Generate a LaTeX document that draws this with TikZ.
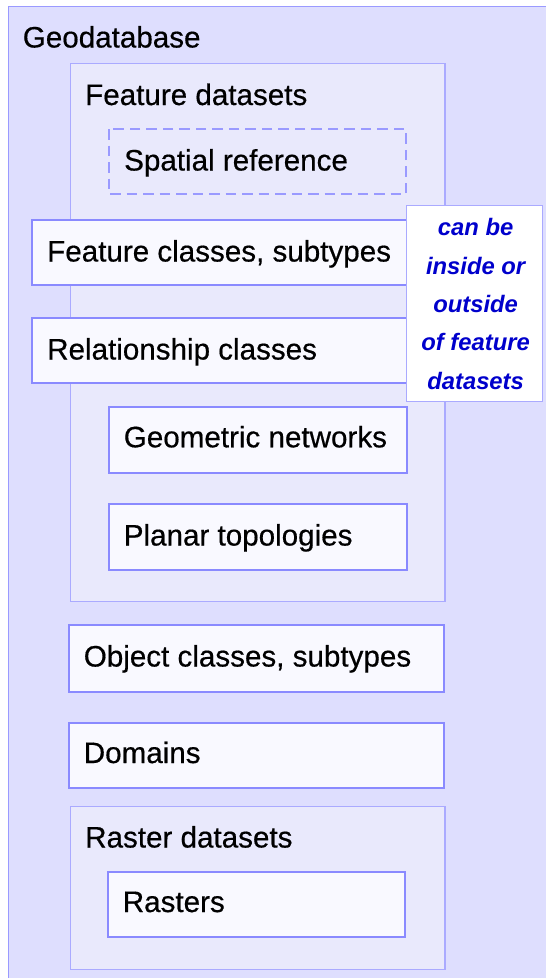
\documentclass[tikz,border=0pt]{standalone}
\usepackage{fontspec}
\setmainfont{Liberation Sans}
\newfontfamily\lblfont[FakeBold=0.5]{Liberation Sans}
\definecolor{outerfill}{HTML}{DEDEFE}
\definecolor{outerline}{HTML}{9A9AFF}
\definecolor{dsfill}{HTML}{E9E9FC}
\definecolor{dsline}{HTML}{AAAAFF}
\definecolor{itemfill}{HTML}{F9F9FF}
\definecolor{itemline}{HTML}{8A8AFF}
\definecolor{notetext}{HTML}{0000CC}
\tikzset{
  lbl/.style={anchor=base west, inner sep=0pt, font=\lblfont\fontsize{29.6}{34}\selectfont, text=black},
  outerbox/.style={draw=outerline, fill=outerfill, line width=1.3pt},
  dsbox/.style={draw=dsline, fill=dsfill, line width=1.2pt},
  itembox/.style={draw=itemline, fill=itemfill, line width=2pt},
  refbox/.style={draw=outerline, line width=2pt, dash pattern=on 10.5pt off 6pt},
  notebox/.style={draw=dsline, fill=white, line width=1pt},
  notelbl/.style={anchor=base, inner sep=0pt, font=\fontsize{23.8}{28}\selectfont\bfseries\itshape, text=notetext}
}
\begin{document}
\begin{tikzpicture}[x=1pt,y=-1pt]
\useasboundingbox (0,0) rectangle (546,978);
\fill[white] (0,0) rectangle (546,978);
% outer geodatabase
\path[outerbox] (8.4,6.3) rectangle (560,990);
\coordinate (gdb) at (8.4,6.3);
\node[lbl] (tgdb) at (22.6,47.5) {Geodatabase};
% feature datasets
\path[dsbox] (70.7,63.7) rectangle (445,601.7);
\node[lbl] (tfd) at (85,105) {Feature datasets};
% spatial reference
\path[refbox] (109,129) rectangle (406,194);
\node[lbl] (tsr) at (124,170.5) {Spatial reference};
% feature classes
\path[itembox] (32,219.6) rectangle (407,284.7);
\node[lbl] (tfc) at (47,261.5) {Feature classes, subtypes};
% relationship classes
\path[itembox] (32,318) rectangle (407,382.5);
\node[lbl] (trc) at (47,359.5) {Relationship classes};
% note box
\path[notebox] (406.7,205.7) rectangle (542.5,401);
\node[notelbl] (n1) at (475.6,235.5) {can be};
\node[notelbl] (n2) at (475.6,274) {inside or};
\node[notelbl] (n3) at (475.6,312.5) {outside};
\node[notelbl] (n4) at (475.6,350.5) {of feature};
\node[notelbl] (n5) at (475.6,389) {datasets};
% geometric networks
\path[itembox] (109.3,406.7) rectangle (406.7,472.5);
\node[lbl] (tgn) at (123.6,447.3) {Geometric networks};
% planar topologies
\path[itembox] (109.3,504.2) rectangle (406.7,570);
\node[lbl] (tpt) at (123.6,545.5) {Planar topologies};
% object classes
\path[itembox] (69,625.4) rectangle (443.6,691.6);
\node[lbl] (toc) at (83.6,666.5) {Object classes, subtypes};
% domains
\path[itembox] (69,722.6) rectangle (443.6,788);
\node[lbl] (tdm) at (83.6,763) {Domains};
% raster datasets
\path[dsbox] (70.7,806.8) rectangle (445,969.8);
\node[lbl] (trd) at (85,847.5) {Raster datasets};
% rasters
\path[itembox] (107.6,872) rectangle (404.6,937);
\node[lbl] (trs) at (122.6,912) {Rasters};
\end{tikzpicture}
\end{document}
